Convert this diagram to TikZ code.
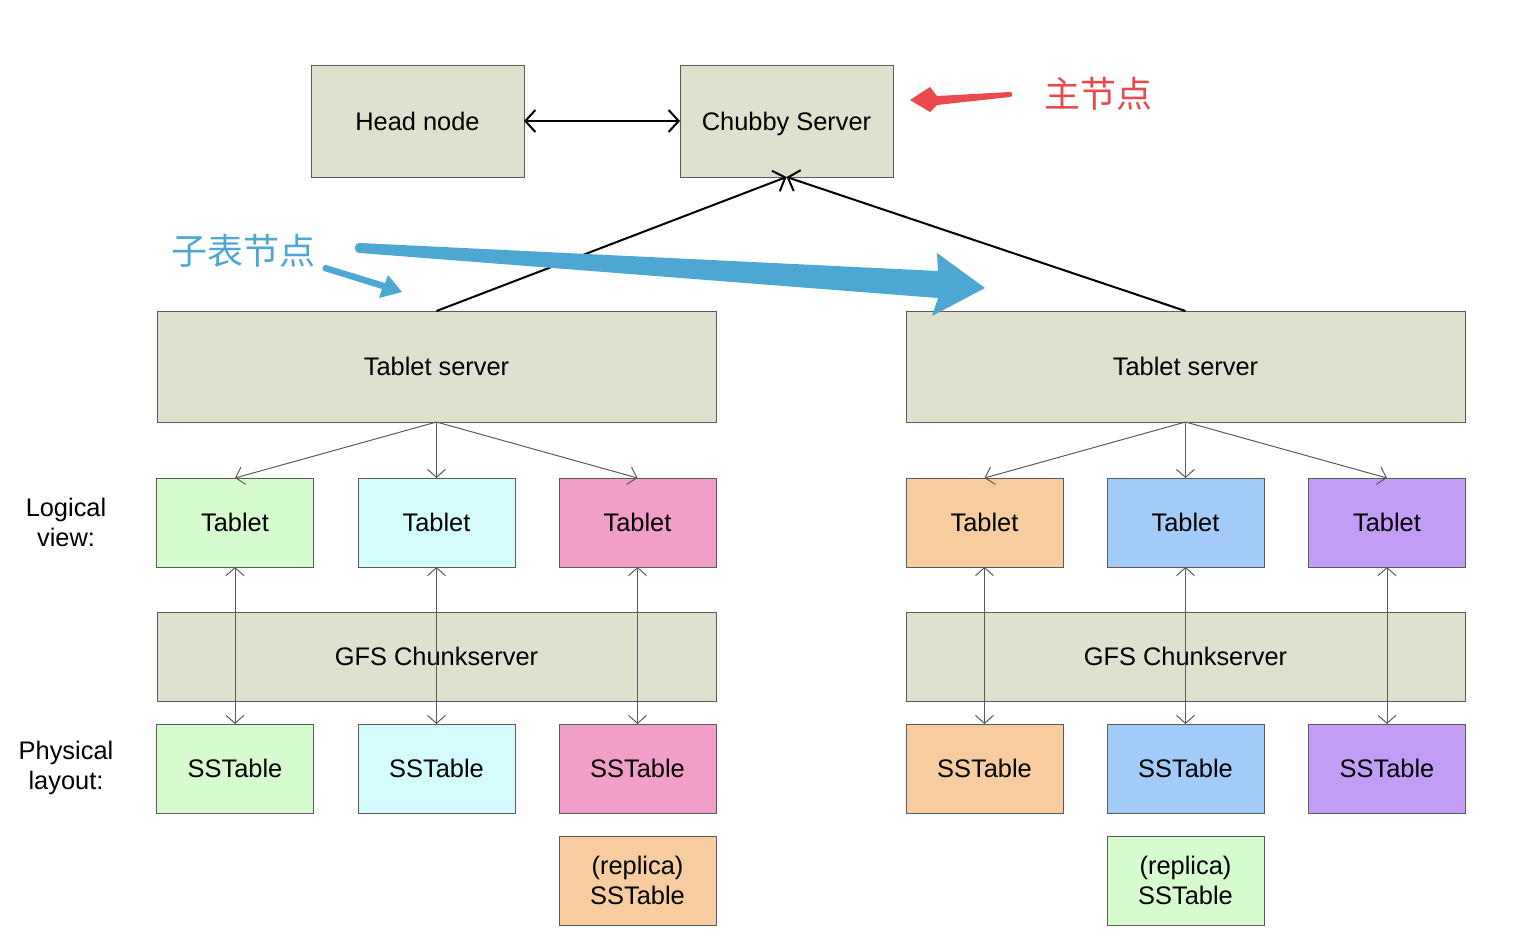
\documentclass[tikz,border=0pt]{standalone}
\usepackage{fontspec}
\setmainfont{Liberation Sans}
\newfontfamily\cjk{Noto Sans CJK SC}
\usetikzlibrary{
	arrows.meta,
	positioning
}
\definecolor{boxline}{HTML}{5A5A5A}
\definecolor{serverfill}{HTML}{DFE0CE}
\definecolor{tabgreen}{HTML}{D6FBCF}
\definecolor{tabcyan}{HTML}{D5FCFC}
\definecolor{tabpink}{HTML}{F19EC9}
\definecolor{taborange}{HTML}{F7CDA0}
\definecolor{tabblue}{HTML}{A3CBF7}
\definecolor{tabpurple}{HTML}{C39CF5}
\definecolor{notered}{HTML}{E84A4E}
\definecolor{noteblue}{HTML}{4CA7D3}
\tikzset{
	every node/.append style={
		font=\fontsize{12.7}{15}\selectfont
	},
	box/.style={
		draw=boxline,
		line width=0.5pt,
		fill=serverfill,
		inner sep=0pt,
		outer sep=0pt,
		align=center
	},
	topbox/.style={box, text depth=0pt, minimum width=106.5pt, minimum height=56pt},
	serverbox/.style={box, minimum width=279.5pt, minimum height=55.5pt},
	chunkbox/.style={box, minimum width=279.5pt, minimum height=44.5pt},
	smallbox/.style={box, minimum width=78.5pt, minimum height=44.5pt},
	master/.style={
		line width=1pt,
		>={Straight Barb[length=5pt,width=11pt]}
	},
	feed/.style={
		draw=boxline,
		line width=0.5pt,
		>={Straight Barb[length=4pt,width=9pt]}
	},
	note/.style={
		font=\cjk\fontsize{18}{20}\selectfont
	}
}

\begin{document}
\begin{tikzpicture}[x=0.5pt,y=-0.5pt]
	\useasboundingbox (0,0) rectangle (1522,944);

	% top row
	\node [topbox] (head)   at (417.5,121) {Head node};
	\node [topbox] (chubby) at (786.5,121) {Chubby Server};

	% servers
	\node [serverbox] (tsl)  at (436.5,366.5)  {Tablet server};
	\node [serverbox] (tsr)  at (1185.5,366.5) {Tablet server};
	\node [chunkbox]  (gfsl) at (436.5,656.5)  {GFS Chunkserver};
	\node [chunkbox]  (gfsr) at (1185.5,656.5) {GFS Chunkserver};

	% tablets and sstables
	\foreach \i/\x/\c in {1/235/tabgreen, 2/436.5/tabcyan, 3/637.5/tabpink,
		4/984.5/taborange, 5/1185.5/tabblue, 6/1387/tabpurple} {
		\node [smallbox, fill=\c] (tab\i) at (\x,522.5) {Tablet};
		\node [smallbox, fill=\c] (sst\i) at (\x,768.5) {SSTable};
	}
	\node [smallbox, fill=taborange] (rep3) at (637.5,880.5)  {(replica)\\SSTable};
	\node [smallbox, fill=tabgreen]  (rep5) at (1185.5,880.5) {(replica)\\SSTable};

	% side labels
	\node [align=center] (logical)  at (66,522) {Logical\\view:};
	\node [align=center] (physical) at (66,768) {Physical\\layout:};

	% connectors
	\draw [master, <->] (head) -- (chubby);
	\draw [master, ->] (tsl.north) -- (chubby.south);
	\draw [master, ->] (tsr.north) -- (chubby.south);
	\foreach \i in {1,2,3}
		\draw [feed, ->] (tsl.south) -- (tab\i.north);
	\foreach \i in {4,5,6}
		\draw [feed, ->] (tsr.south) -- (tab\i.north);
	\foreach \i in {1,...,6}
		\draw [feed, <->] (tab\i.south) -- (sst\i.north);

	% notes
	\node [note, text=notered]  (mainnote) at (1098,94)  {主节点};
	\node [note, text=noteblue] (subnote)  at (243,251)  {子表节点};
	\fill [notered] (1010,92) -- (937,96) -- (930,87) -- (910,100)
		-- (930,112) -- (937,105) -- (1010,97)
		.. controls (1013,97) and (1013,92) .. (1010,92);
	\fill [noteblue] (326,265) -- (385,283) -- (388,275) -- (402,292)
		-- (379,298) -- (382,289) -- (324,271)
		.. controls (321,270) and (323,264) .. (326,265);
	\fill [noteblue] (360,243) -- (938,271) -- (937,253) -- (985,288)
		-- (932,316) -- (938,298) -- (360,253)
		.. controls (353,253) and (353,243) .. (360,243);
\end{tikzpicture}
\end{document}
